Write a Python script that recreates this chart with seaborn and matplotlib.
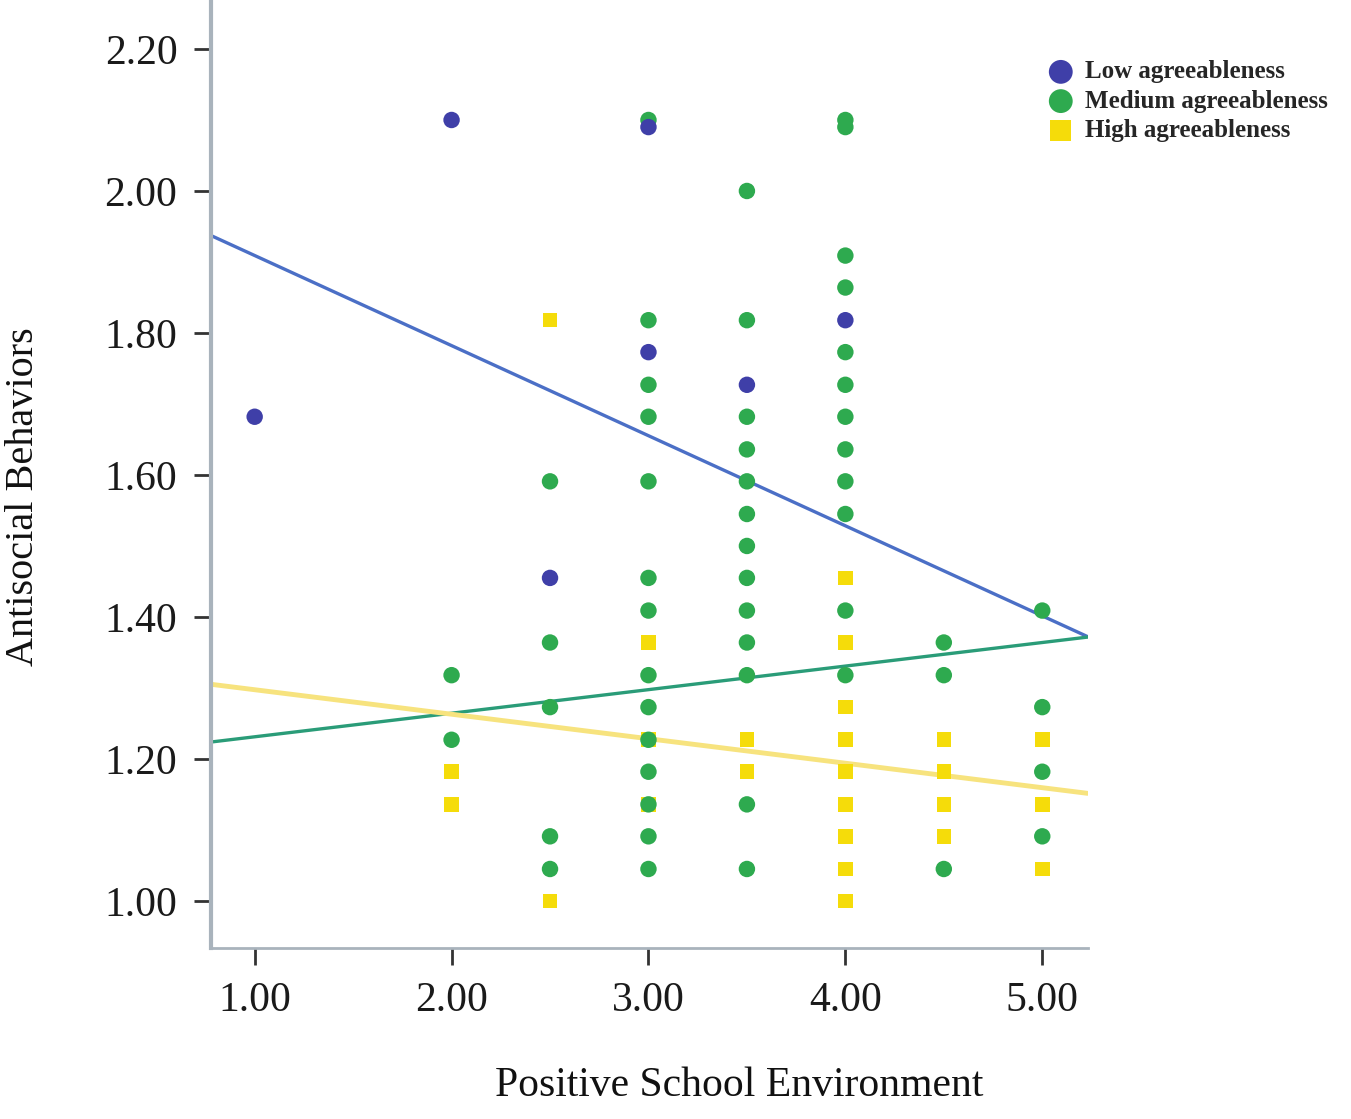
import numpy as np
import pandas as pd
import seaborn as sns
import matplotlib.pyplot as plt

# Low agreeableness
low_x = [1.0, 2.0, 2.5, 3.0, 3.0, 3.5, 4.0]
low_y = [1.682, 2.10, 1.455, 2.09, 1.773, 1.727, 1.818]

# Medium agreeableness
med_x = [2.0, 2.0,
         2.5, 2.5, 2.5, 2.5, 2.5,
         3.0, 3.0, 3.0, 3.0, 3.0, 3.0, 3.0, 3.0, 3.0, 3.0, 3.0, 3.0, 3.0, 3.0,
         3.5, 3.5, 3.5, 3.5, 3.5, 3.5, 3.5, 3.5, 3.5, 3.5, 3.5, 3.5, 3.5,
         4.0, 4.0, 4.0, 4.0, 4.0, 4.0, 4.0, 4.0, 4.0, 4.0, 4.0, 4.0,
         4.5, 4.5, 4.5,
         5.0, 5.0, 5.0, 5.0]
med_y = [1.318, 1.227,
         1.591, 1.364, 1.273, 1.091, 1.045,
         2.10, 1.818, 1.727, 1.682, 1.591, 1.455, 1.409, 1.318, 1.273, 1.227, 1.182, 1.136, 1.091, 1.045,
         2.00, 1.818, 1.682, 1.636, 1.591, 1.545, 1.500, 1.455, 1.409, 1.364, 1.318, 1.136, 1.045,
         2.10, 2.09, 1.909, 1.864, 1.773, 1.727, 1.682, 1.636, 1.591, 1.545, 1.409, 1.318,
         1.364, 1.318, 1.045,
         1.409, 1.273, 1.182, 1.091]

# High agreeableness
high_x = [2.0, 2.0, 2.5, 2.5, 3.0, 3.0, 3.0, 3.5, 3.5,
          4.0, 4.0, 4.0, 4.0, 4.0, 4.0, 4.0, 4.0, 4.0,
          4.5, 4.5, 4.5, 4.5, 5.0, 5.0, 5.0]
high_y = [1.182, 1.136, 1.818, 1.0, 1.364, 1.227, 1.136, 1.227, 1.182,
          1.455, 1.364, 1.273, 1.227, 1.182, 1.136, 1.091, 1.045, 1.0,
          1.227, 1.182, 1.136, 1.091, 1.227, 1.136, 1.045]

groups = ["Low agreeableness", "Medium agreeableness", "High agreeableness"]
point_colors = ["#3F3FA8", "#2EAA4F", "#F5DC0A"]
line_colors = ["#4B6FC6", "#2A9C78", "#F7E37E"]

# fitted lines (intercept, slope) per group
fit_intercept = [2.036, 1.198, 1.332]
fit_slope = [-0.1269, 0.0332, -0.0345]

x_ticks = [1.0, 2.0, 3.0, 4.0, 5.0]
y_ticks = [1.0, 1.2, 1.4, 1.6, 1.8, 2.0, 2.2]

df = pd.concat([
    pd.DataFrame({'school': low_x, 'antisocial': low_y, 'group': groups[0]}),
    pd.DataFrame({'school': med_x, 'antisocial': med_y, 'group': groups[1]}),
    pd.DataFrame({'school': high_x, 'antisocial': high_y, 'group': groups[2]}),
])

sns.set_style("ticks")
plt.rcParams['font.family'] = ['Liberation Serif', 'DejaVu Serif']

fig = plt.figure(figsize=(13.51, 11.19), dpi=100)
ax = fig.add_axes([0.156, 0.153, 0.649, 0.847])

# high first, then medium, then low on top
order = [groups[2], groups[1], groups[0]]
markers = {groups[0]: 'o', groups[1]: 'o', groups[2]: 's'}
for g in order:
    i = groups.index(g)
    sub = df[df['group'] == g]
    sns.scatterplot(data=sub, x='school', y='antisocial', color=point_colors[i],
                    marker=markers[g], s=140 if g != groups[2] else 110,
                    edgecolor='none', ax=ax, label=g, zorder=3)

xlim = (0.777, 5.23)
xs = np.array(xlim)
for i in range(3):
    ax.plot(xs, fit_intercept[i] + fit_slope[i] * xs, color=line_colors[i],
            lw=2.4 if i != 2 else 3.5, zorder=2)

ax.set_xlim(*xlim)
ax.set_ylim(0.934, 2.269)
ax.set_xticks(x_ticks)
ax.set_xticklabels([f"{v:.2f}" for v in x_ticks])
ax.set_yticks(y_ticks)
ax.set_yticklabels([f"{v:.2f}" for v in y_ticks])
ax.tick_params(axis='both', labelsize=30, length=12, width=2, color='#333333',
               labelcolor='#1a1a1a')
ax.tick_params(axis='x', pad=12)
ax.tick_params(axis='y', pad=12)

for s in ['top', 'right']:
    ax.spines[s].set_visible(False)
ax.spines['left'].set_color('#A9B3BC')
ax.spines['left'].set_linewidth(3)
ax.spines['bottom'].set_color('#A9B3BC')
ax.spines['bottom'].set_linewidth(2)

ax.set_xlabel("Positive School Environment", fontsize=30, color='#111111')
ax.set_ylabel("Antisocial Behaviors", fontsize=29, color='#111111')
ax.xaxis.set_label_coords(0.603, -0.125)
ax.yaxis.set_label_coords(-0.192, 0.476)

handles, labels = ax.get_legend_handles_labels()
hmap = dict(zip(labels, handles))
ax.get_legend().remove()
fig.legend([hmap[g] for g in groups], groups, loc='upper left',
           bbox_to_anchor=(0.775, 0.946), frameon=False,
           prop={'weight': 'bold', 'size': 18}, handletextpad=0.4,
           labelspacing=0.25, borderaxespad=0, borderpad=0,
           markerscale=1.45, handlelength=1.1)

fig.savefig("out.png", dpi=100)
